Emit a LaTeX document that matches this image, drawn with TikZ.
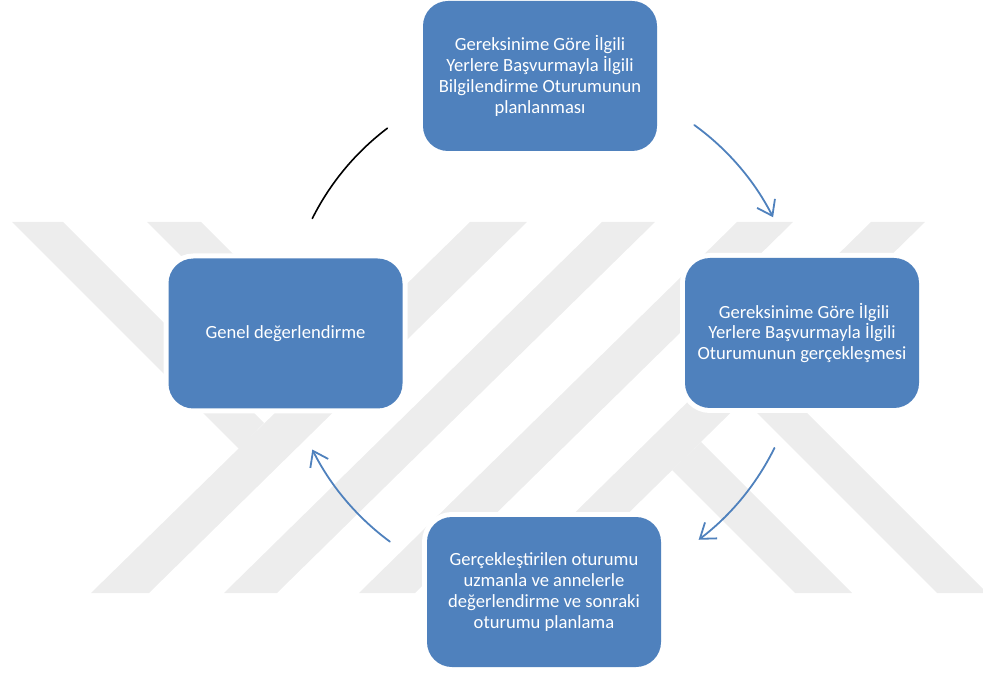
\documentclass[tikz,border=0pt]{standalone}
\usepackage{fontspec}
\setmainfont{Carlito}
\usetikzlibrary{arrows.meta}
\definecolor{boxblue}{HTML}{4F81BD}
\definecolor{wmgray}{RGB}{237,237,237}

\begin{document}
\begin{tikzpicture}[x=1pt,y=1pt,
  stepbox/.style={rectangle, rounded corners=25pt, fill=boxblue,
    minimum width=234pt, minimum height=150pt, inner sep=0pt,
    text=white, align=center, font=\fontsize{18.6}{20.8}\selectfont,
    preaction={draw=white, line width=10pt}},
  flow/.style={draw=boxblue, line width=1.8pt, line cap=round,
    -{Straight Barb[length=14pt,width=20pt]}},
  link/.style={draw=black, line width=1.6pt, line cap=round},
  wmstrip/.style={fill=wmgray}
]
\useasboundingbox (0,0) rectangle (983,673);

% faint background emblem made of diagonal bars
\fill[wmstrip] (12,451) -- (63,451) -- (264,250) -- (239,224) -- cycle;
\fill[wmstrip] (147,451) -- (201,451) -- (334,318) -- (307,291) -- cycle;
\fill[wmstrip] (470,451) -- (527,451) -- (149,80) -- (91,80) -- cycle;
\fill[wmstrip] (602,451) -- (655,451) -- (277,80) -- (224,80) -- cycle;
\fill[wmstrip] (737,451) -- (793,451) -- (415,80) -- (359,80) -- cycle;
\fill[wmstrip] (871,451) -- (925,451) -- (547,80) -- (493,80) -- cycle;
\fill[wmstrip] (769,298) -- (987,80) -- (937,80) -- (744,273) -- cycle;
\fill[wmstrip] (701,231) -- (852,80) -- (795,80) -- (672,203) -- cycle;

% cycle steps
\node[stepbox] (plan) at (540,597)
  {Gereksinime Göre İlgili\\Yerlere Başvurmayla İlgili\\Bilgilendirme Oturumunun\\planlanması};
\node[stepbox] (run) at (802,340)
  {\ Gereksinime Göre İlgili\\Yerlere Başvurmayla İlgili\\Oturumunun gerçekleşmesi};
\node[stepbox] (review) at (544,81)
  {Gerçekleştirilen oturumu\\uzmanla ve annelerle\\değerlendirme ve sonraki\\oturumu planlama};
\node[stepbox] (general) at (285.5,339.5) {Genel değerlendirme};

% centre of the cycle and arc end points
\coordinate (c) at (543,339);
\coordinate (s0) at ([shift={(153.4:258)}]c);
\coordinate (s1) at ([shift={(54.1:258)}]c);
\coordinate (s2) at ([shift={(-26.2:258)}]c);
\coordinate (s3) at ([shift={(-126.4:258)}]c);

% connectors along the circle
\draw[link] (s0) arc[start angle=153.4, end angle=127.1, radius=258];
\draw[flow] (s1) arc[start angle=54.1, end angle=26.9, radius=258];
\draw[flow] (s2) arc[start angle=-26.2, end angle=-52.9, radius=258];
\draw[flow] (s3) arc[start angle=-126.4, end angle=-153.4, radius=258];
\end{tikzpicture}
\end{document}
